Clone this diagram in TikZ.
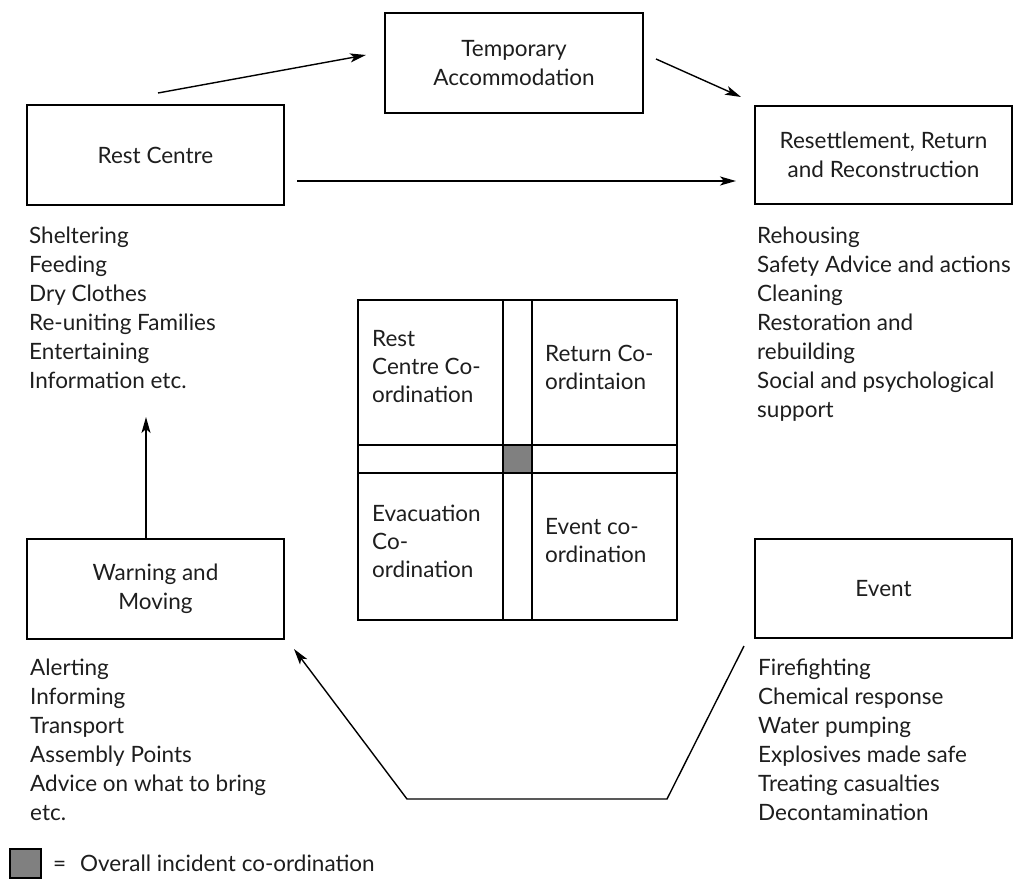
\documentclass[tikz,border=0pt]{standalone}
\usepackage{fontspec}
\setmainfont{Lato}
\usetikzlibrary{arrows.meta,calc}
\definecolor{txt}{HTML}{1E1E1E}
\tikzset{
  box/.style={draw,line width=2pt,minimum width=257pt,minimum height=100pt,inner sep=0pt,align=center,text=txt,font=\fontsize{22.5}{29}\selectfont},
  lst/.style={anchor=north west,inner sep=0pt,align=left,text=txt,font=\fontsize{22.5}{29}\selectfont},
  cell/.style={anchor=north west,inner sep=0pt,align=left,text=txt,font=\fontsize{22.5}{28}\selectfont},
  legtext/.style={anchor=base west,inner sep=0pt,text=txt,font=\fontsize{22.5}{29}\selectfont},
  arr/.style={line width=1.4pt,-{Stealth[length=16pt,width=9pt,inset=4pt]}},
  gridline/.style={line width=2.2pt}
}
\begin{document}
\begin{tikzpicture}[x=1pt,y=-1pt]
\useasboundingbox[fill=white] (0,0) rectangle (1016,880);
% boxes
\node[box,minimum width=258pt] (tmp) at (514,63) {Temporary\\Accommodation};
\node[box] (rest) at (155.5,155) {Rest Centre};
\node[box,minimum height=98pt] (reset) at (883.5,155) {Resettlement, Return\\and Reconstruction};
\node[box] (warn) at (155.5,589) {Warning and\\Moving};
\node[box,minimum height=99pt] (event) at (883.5,588.5) {Event};
% lists
\node[lst] (restlist) at (29,227) {Sheltering\\Feeding\\Dry Clothes\\Re-uniting Families\\Entertaining\\Information etc.};
\node[lst] (resetlist) at (757,227) {Rehousing\\Safety Advice and actions\\Cleaning\\Restoration and\\rebuilding\\Social and psychological\\support};
\node[lst] (warnlist) at (30,659) {Alerting\\Informing\\Transport\\Assembly Points\\Advice on what to bring\\etc.};
\node[lst] (eventlist) at (758,659) {Firefighting\\Chemical response\\Water pumping\\Explosives made safe\\Treating casualties\\Decontamination};
% coordination grid
\draw[gridline] (358,300) rectangle (677,620);
\draw[gridline] (503,300) -- (503,620) (532,300) -- (532,620);
\draw[gridline] (358,445) -- (677,445) (358,473) -- (677,473);
\draw[gridline,fill=gray] (503,445) rectangle (532,473);
\node[cell] (c1) at (372,330) {Rest\\Centre Co-\\ordination};
\node[cell] (c2) at (545,345) {Return Co-\\ordintaion};
\node[cell] (c3) at (372,505) {Evacuation\\Co-\\ordination};
\node[cell] (c4) at (545,518) {Event co-\\ordination};
% connectors
\coordinate (a1s) at ($(rest.north)+(2.5,-11)$);
\coordinate (a1e) at ($(tmp.west)+(-18,-8)$);
\coordinate (a2s) at ($(tmp.east)+(12,-4)$);
\coordinate (a2e) at ($(reset.north west)+(-13,-8)$);
\coordinate (a3s) at ($(rest.east)+(12,26)$);
\coordinate (a3e) at ($(reset.west)+(-18,26)$);
\coordinate (a4s) at ($(warn.north)+(-9.5,0)$);
\coordinate (a4e) at ($(warn.north)+(-9.5,-121)$);
\coordinate (a5s) at ($(event.south west)+(-10,7)$);
\coordinate (b1) at (667,799);
\coordinate (b2) at (407,799);
\coordinate (a5e) at ($(warn.south east)+(9,9)$);
\draw[arr] (a1s) -- (a1e);
\draw[arr] (a2s) -- (a2e);
\draw[arr] (a3s) -- (a3e);
\draw[arr] (a4s) -- (a4e);
\draw[arr] (a5s) -- (b1) -- (b2) -- (a5e);
% legend
\draw[line width=2pt,fill=gray] (10,849) rectangle (41,878);
\node[legtext] (eq) at (53,871) {=};
\node[legtext] (legend) at (80,871) {Overall incident co-ordination};
\end{tikzpicture}
\end{document}
